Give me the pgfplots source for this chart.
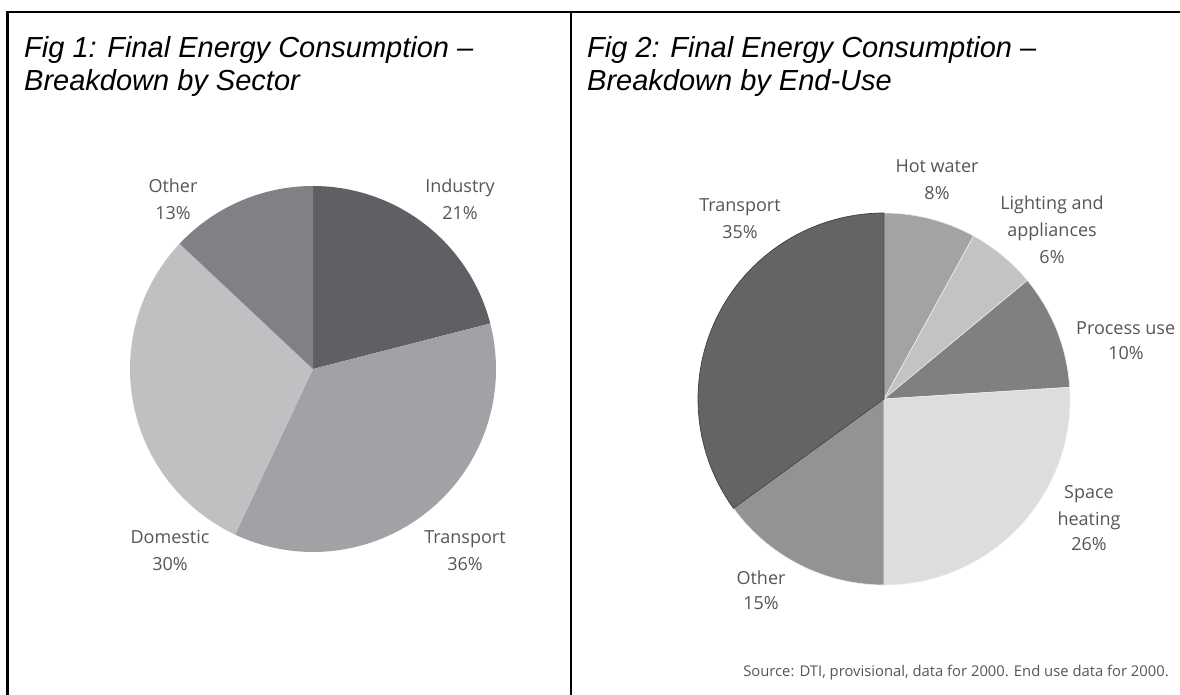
\documentclass[border=0pt]{standalone}
\usepackage{pgfplots}
\pgfplotsset{compat=1.18}
\usepackage{fontspec}
\setmainfont{Liberation Sans}
\newfontfamily\lblfont{Open Sans}

% greys of the two pies
\definecolor{indus}{HTML}{5F6064}
\definecolor{trans}{HTML}{A2A2A6}
\definecolor{domes}{HTML}{C0C0C2}
\definecolor{other}{HTML}{808185}
\definecolor{hotw}{HTML}{A3A3A3}
\definecolor{light}{HTML}{C3C3C3}
\definecolor{proc}{HTML}{808080}
\definecolor{space}{HTML}{DDDDDD}
\definecolor{othr}{HTML}{939393}
\definecolor{tran}{HTML}{646464}
\definecolor{lbl}{HTML}{555555}

% one slice: [extra options]{percent before}{percent}{colour}, clockwise from 12 o'clock
\newcommand{\slice}[4][]{%
  \addplot[fill=#4, draw=none, domain=90-3.6*(#2+#3):90-3.6*#2, samples=90, #1]
    ({cos(x)},{sin(x)}) -- (axis cs:0,0) -- cycle;}

\pgfplotsset{pie/.style={width=366pt, height=366pt, scale only axis,
  xmin=-1, xmax=1, ymin=-1, ymax=1, hide axis, clip=false, anchor=center}}

\begin{document}
\begin{tikzpicture}[x=1pt, y=1pt]
\useasboundingbox (0,0) rectangle (1180,695);

% frame
\draw[line width=2.2pt] (7.5,0) -- (7.5,683) -- (1180,683);
\draw[line width=2.2pt] (571,0) -- (571,683);

% titles
\begin{scope}[every node/.style={inner sep=0pt, anchor=base west, font=\fontsize{29}{33}\selectfont\itshape}]
\node at (24,637) {Fig 1: Final Energy Consumption --};
\node at (24,604) {Breakdown by Sector};
\node at (587,637) {Fig 2: Final Energy Consumption --};
\node at (587,604) {Breakdown by End-Use};
\end{scope}

% Fig 1: by sector
\begin{axis}[pie, at={(313pt,326pt)}]
\slice{0}{21}{indus}
\slice{21}{36}{trans}
\slice{57}{30}{domes}
\slice{87}{13}{other}
\end{axis}

% Fig 2: by end-use
\begin{axis}[pie, width=372pt, height=372pt, at={(884pt,296pt)}]
\slice[draw=white!85!gray, line width=0.6pt]{0}{8}{hotw}
\slice[draw=white!85!gray, line width=0.6pt]{8}{6}{light}
\slice[draw=white!85!gray, line width=0.6pt]{14}{10}{proc}
\slice[draw=white!85!gray, line width=0.6pt]{24}{26}{space}
\slice[draw=white!85!gray, line width=0.6pt]{50}{15}{othr}
\slice[draw=black!75, line width=0.7pt]{65}{35}{tran}
\end{axis}

% slice labels
\begin{scope}[every node/.style={inner sep=0pt, anchor=base, text=lbl, font=\lblfont\fontsize{18}{22}\selectfont}]
\node at (173,502) {Other};      \node at (173,475) {13\%};
\node at (460,502) {Industry};   \node at (460,475) {21\%};
\node at (170,151) {Domestic};   \node at (170,124) {30\%};
\node at (465,151) {Transport};  \node at (465,124) {36\%};

\node at (937,522) {Hot water};  \node at (937,495) {8\%};
\node at (1052,485) {Lighting and};
\node at (1052,458) {appliances};
\node at (1052,431) {6\%};
\node[anchor=base west] at (1076,360) {Process use};
\node at (1126,335) {10\%};
\node at (1089,196) {Space};
\node at (1089,169) {heating};
\node at (1089,144) {26\%};
\node at (761,110) {Other};      \node at (761,85) {15\%};
\node at (740,483) {Transport};  \node at (740,456) {35\%};

\node[font=\lblfont\fontsize{14.8}{17}\selectfont] at (956,18)
  {Source: DTI, provisional, data for 2000. End use data for 2000.};
\end{scope}
\end{tikzpicture}
\end{document}
